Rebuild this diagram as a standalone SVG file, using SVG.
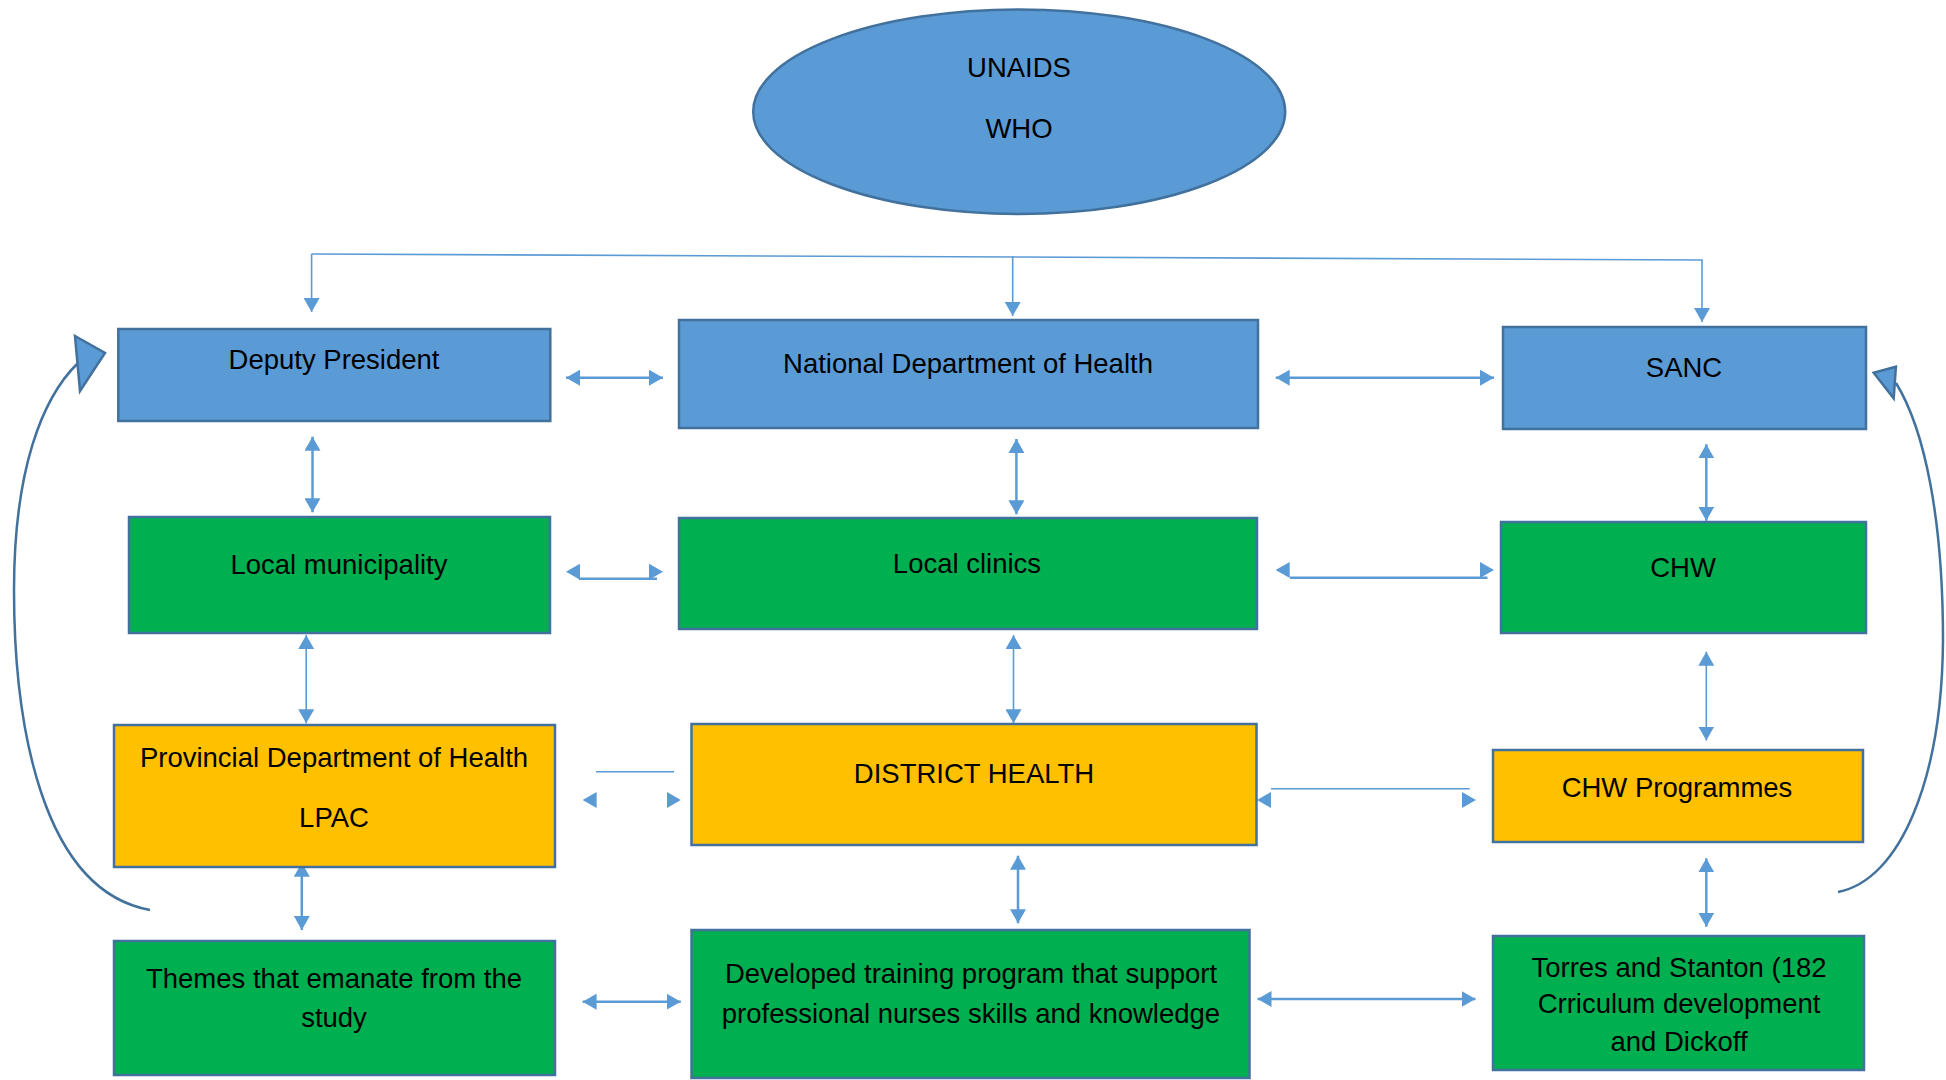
<svg xmlns="http://www.w3.org/2000/svg" width="1946" height="1080" viewBox="0 0 1946 1080">
<style>
.bg{fill:#ffffff}
.box{stroke:#41719C;stroke-width:2.5}
.blue{fill:#5B9BD5}
.green{fill:#00B050}
.amber{fill:#FFC000}
.t{font-family:"Liberation Sans",Arial,sans-serif;font-size:27.5px;fill:#000;text-anchor:middle}
.c{fill:none;stroke:#5B9BD5;stroke-width:2.5}
.thin{fill:none;stroke:#5B9BD5;stroke-width:1.6}
.inv{fill:none;stroke:none}
.curve{fill:none;stroke:#41719C;stroke-width:2.5}
.bighead{fill:#5B9BD5;stroke:#41719C;stroke-width:2.5;stroke-linejoin:miter}
</style>
<defs>
<marker id="ah" viewBox="0 0 14 16" markerWidth="14" markerHeight="16" refX="14" refY="8" orient="auto-start-reverse" markerUnits="userSpaceOnUse">
<path d="M0,0 L14,8 L0,16 z" fill="#5B9BD5"/>
</marker>
</defs>
<rect class="bg" x="0" y="0" width="1946" height="1080"/>

<g id="connectors">
<path class="thin" d="M311.6,254 L1702.8,260"/>
<path class="thin" d="M311.6,254 L311.6,312" marker-end="url(#ah)"/>
<path class="thin" d="M1012.7,256 L1012.7,316" marker-end="url(#ah)"/>
<path class="thin" d="M1702,260 L1702,322" marker-end="url(#ah)"/>

<path class="c" d="M566,377.7 L663,377.7" marker-start="url(#ah)" marker-end="url(#ah)"/>
<path class="c" d="M1275.7,377.7 L1494,377.7" marker-start="url(#ah)" marker-end="url(#ah)"/>

<path class="c" d="M579,578.7 L657,578.7"/>
<path class="inv" d="M566,571.7 L663,571.7" marker-start="url(#ah)" marker-end="url(#ah)"/>
<path class="c" d="M1290,577.7 L1487.5,577.7"/>
<path class="inv" d="M1275.7,570 L1494,570" marker-start="url(#ah)" marker-end="url(#ah)"/>

<path class="thin" d="M596,771.7 L674,771.7"/>
<path class="inv" d="M582.6,800 L680.8,800" marker-start="url(#ah)" marker-end="url(#ah)"/>
<path class="thin" d="M1271,788.7 L1469.7,788.7"/>
<path class="inv" d="M1257,800 L1476,800" marker-start="url(#ah)" marker-end="url(#ah)"/>

<path class="c" d="M582.6,1001.7 L680.8,1001.7" marker-start="url(#ah)" marker-end="url(#ah)"/>
<path class="c" d="M1257.5,999 L1475.5,999" marker-start="url(#ah)" marker-end="url(#ah)"/>

<path class="c" d="M312.5,436.7 L312.5,512.3" marker-start="url(#ah)" marker-end="url(#ah)"/>
<path class="c" d="M1016.4,439 L1016.4,514.3" marker-start="url(#ah)" marker-end="url(#ah)"/>
<path class="c" d="M1706.3,444.3 L1706.3,520.7" marker-start="url(#ah)" marker-end="url(#ah)"/>

<path class="thin" d="M306.2,635 L306.2,723.3" marker-start="url(#ah)" marker-end="url(#ah)"/>
<path class="thin" d="M1013.5,635 L1013.5,723.3" marker-start="url(#ah)" marker-end="url(#ah)"/>
<path class="thin" d="M1706.3,651.7 L1706.3,740.5" marker-start="url(#ah)" marker-end="url(#ah)"/>

<path class="c" d="M301.8,862.7 L301.8,930" marker-start="url(#ah)" marker-end="url(#ah)"/>
<path class="c" d="M1018,855.7 L1018,923.3" marker-start="url(#ah)" marker-end="url(#ah)"/>
<path class="c" d="M1706.3,858.3 L1706.3,926.7" marker-start="url(#ah)" marker-end="url(#ah)"/>

<path class="curve" d="M150,910 C40,890 14,720 14,590 C14,470 42,398 78,363"/>
<polygon class="bighead" points="75,336 105,353 80,391"/>
<path class="curve" d="M1838,892 C1900,880 1942,780 1943,640 C1943,520 1925,430 1896,383"/>
<polygon class="bighead" points="1873.7,372.7 1895.9,366.7 1893.7,398.3"/>
</g>

<g id="node-unaids">
<ellipse class="box blue" cx="1019.2" cy="111.7" rx="266" ry="102.3"/>
<text class="t" x="1019" y="77">UNAIDS</text>
<text class="t" x="1019" y="138">WHO</text>
</g>

<g id="node-deputy-president">
<rect class="box blue" x="118.3" y="329" width="432" height="92"/>
<text class="t" x="334" y="369">Deputy President</text>
</g>

<g id="node-national-doh">
<rect class="box blue" x="679" y="320" width="579" height="108"/>
<text class="t" x="968" y="373">National Department of Health</text>
</g>

<g id="node-sanc">
<rect class="box blue" x="1503" y="327" width="363" height="102"/>
<text class="t" x="1684" y="377">SANC</text>
</g>

<g id="node-local-municipality">
<rect class="box green" x="129" y="517" width="421" height="116"/>
<text class="t" x="339" y="574">Local municipality</text>
</g>

<g id="node-local-clinics">
<rect class="box green" x="679" y="518" width="578" height="111"/>
<text class="t" x="967" y="573">Local clinics</text>
</g>

<g id="node-chw">
<rect class="box green" x="1501" y="522" width="365" height="111"/>
<text class="t" x="1683" y="577">CHW</text>
</g>

<g id="node-provincial-doh">
<rect class="box amber" x="114" y="725" width="441" height="142"/>
<text class="t" x="334" y="767">Provincial Department of Health</text>
<text class="t" x="334" y="827">LPAC</text>
</g>

<g id="node-district-health">
<rect class="box amber" x="691.5" y="724" width="565" height="121"/>
<text class="t" x="974" y="783">DISTRICT HEALTH</text>
</g>

<g id="node-chw-programmes">
<rect class="box amber" x="1493" y="750" width="370" height="92"/>
<text class="t" x="1677" y="797">CHW Programmes</text>
</g>

<g id="node-themes">
<rect class="box green" x="114" y="941" width="441" height="134"/>
<text class="t" x="334" y="988">Themes that emanate from the</text>
<text class="t" x="334" y="1027">study</text>
</g>

<g id="node-training-program">
<rect class="box green" x="691.5" y="930" width="558" height="148"/>
<text class="t" x="971" y="983">Developed training program that support</text>
<text class="t" x="971" y="1023">professional nurses skills and knowledge</text>
</g>

<g id="node-torres">
<rect class="box green" x="1493" y="936" width="371" height="134"/>
<text class="t" x="1679" y="977">Torres and Stanton (182</text>
<text class="t" x="1679" y="1013">Crriculum development</text>
<text class="t" x="1679" y="1051">and Dickoff</text>
</g>
</svg>
